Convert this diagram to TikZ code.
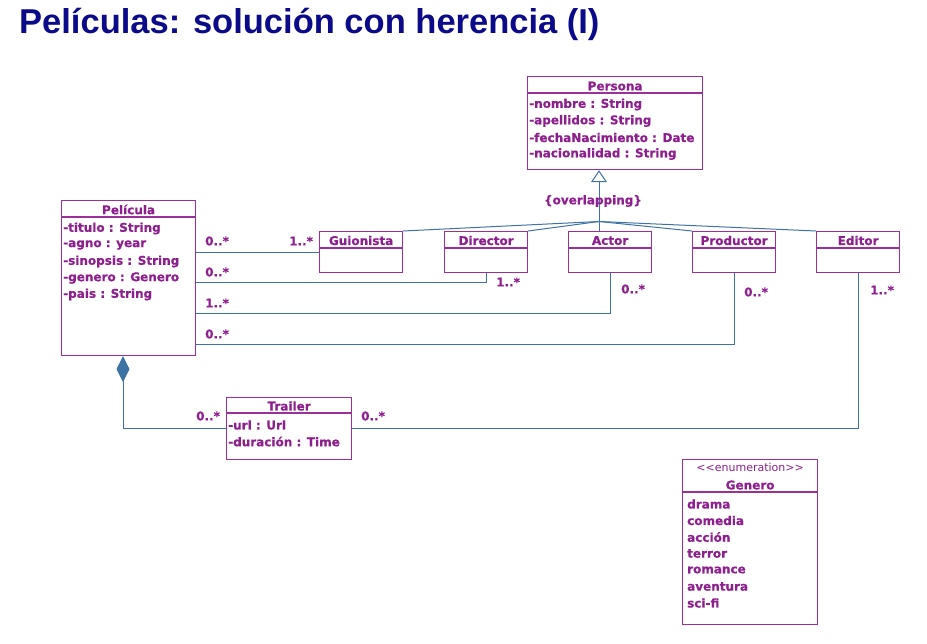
\documentclass[tikz,border=0pt]{standalone}
\usepackage{fontspec}
\setmainfont{DejaVu Sans}[BoldFeatures={FakeBold=0.6}]
\newfontfamily\titlefont{Liberation Sans}
\usetikzlibrary{arrows.meta,calc}
\definecolor{umlpurple}{HTML}{8E1F8E}
\definecolor{umlborder}{HTML}{9B309B}
\definecolor{assoc}{HTML}{3D72A4}
\definecolor{titleblue}{HTML}{0B0B8A}

\begin{document}
\begin{tikzpicture}[x=1pt,y=-1pt,
  classbox/.style={draw=umlborder, line width=1.2pt, fill=white, anchor=north west, inner sep=0pt},
  divider/.style={draw=umlborder, line width=1.2pt},
  txt/.style={text=umlpurple, font=\fontsize{12}{14}\selectfont\bfseries, inner sep=0pt, anchor=west},
  cname/.style={txt, anchor=center},
  mult/.style={txt},
  link/.style={draw=assoc, line width=1pt}]
\useasboundingbox (0,0) rectangle (927,644);

% title
\node[anchor=west, text=titleblue, inner sep=0pt,
      font=\titlefont\fontsize{34.5}{38}\selectfont\bfseries] (title) at (19,24)
      {Películas: solución con herencia (I)};

% ---------- Persona ----------
\node[classbox, minimum width=175, minimum height=93] (persona) at (527,76) {};
\node[cname] (persona-name) at ($(persona.north)+(0,10)$) {Persona};
\draw[divider] ($(persona.north west)+(0,17)$) -- ($(persona.north east)+(0,17)$);
\node[txt] (persona-a1) at ($(persona.north west)+(2,28.5)$) {-nombre : String};
\node[txt] (persona-a2) at ($(persona.north west)+(2,45)$) {-apellidos : String};
\node[txt] (persona-a3) at ($(persona.north west)+(2,61.5)$) {-fechaNacimiento : Date};
\node[txt] (persona-a4) at ($(persona.north west)+(2,78)$) {-nacionalidad : String};

% ---------- Pelicula ----------
\node[classbox, minimum width=134, minimum height=155] (pelicula) at (61,200) {};
\node[cname] (pelicula-name) at ($(pelicula.north)+(0,9.5)$) {Película};
\draw[divider] ($(pelicula.north west)+(0,17)$) -- ($(pelicula.north east)+(0,17)$);
\node[txt] (pelicula-a1) at ($(pelicula.north west)+(2,28.5)$) {-titulo : String};
\node[txt] (pelicula-a2) at ($(pelicula.north west)+(2,45)$) {-agno : year};
\node[txt] (pelicula-a3) at ($(pelicula.north west)+(2,61.5)$) {-sinopsis : String};
\node[txt] (pelicula-a4) at ($(pelicula.north west)+(2,78)$) {-genero : Genero};
\node[txt] (pelicula-a5) at ($(pelicula.north west)+(2,94.5)$) {-pais : String};

% ---------- subclasses of Persona ----------
\foreach \nm/\lbl/\x in {guionista/Guionista/319, director/Director/444,
                        actor/Actor/568, productor/Productor/692, editor/Editor/816}{
  \node[classbox, minimum width=83, minimum height=41] (\nm) at (\x,231) {};
  \node[cname] (\nm-name) at ($(\nm.north)+(0,9.5)$) {\lbl};
  \draw[divider] ($(\nm.north west)+(0,17)$) -- ($(\nm.north east)+(0,17)$);
}

% ---------- Trailer ----------
\node[classbox, minimum width=125, minimum height=62] (trailer) at (226,397) {};
\node[cname] (trailer-name) at ($(trailer.north)+(0,9)$) {Trailer};
\draw[divider] ($(trailer.north west)+(0,16)$) -- ($(trailer.north east)+(0,16)$);
\node[txt] (trailer-a1) at ($(trailer.north west)+(2,28)$) {-url : Url};
\node[txt] (trailer-a2) at ($(trailer.north west)+(2,44.5)$) {-duración : Time};

% ---------- Genero ----------
\node[classbox, minimum width=135, minimum height=165] (genero) at (682,459) {};
\node[cname, font=\fontsize{11}{13}\selectfont] (genero-st) at ($(genero.north)+(0,8.5)$) {<{}<enumeration>{}>};
\node[cname] (genero-name) at ($(genero.north)+(0,26)$) {Genero};
\draw[divider] ($(genero.north west)+(0,33)$) -- ($(genero.north east)+(0,33)$);
\foreach \v [count=\i from 0] in {drama, comedia, acción, terror, romance, aventura, sci-fi}{
  \node[txt] (genero-v\i) at ($(genero.north west)+(5,45+16.5*\i)$) {\v};
}

% ---------- generalization ----------
\coordinate (gen) at (599,221.5);
\draw[link, -{Triangle[open, fill=white, length=12pt, width=16pt]}]
      (gen) -- ($(persona.south west)+(72,0)$);
\draw[link] (gen) -- (guionista.north east);
\draw[link] (gen) -- (director.north east);
\draw[link] (gen) -- ($(actor.north west)+(31,0)$);
\draw[link] (gen) -- (productor.north west);
\draw[link] (gen) -- (editor.north west);
\node[txt, anchor=center] (overlap) at (593,201) {\{overlapping\}};

% ---------- associations ----------
\draw[link] (pelicula.east |- guionista.west) -- (guionista.west);
\draw[link] ($(pelicula.north east)+(0,83)$) -| (director.south);
\draw[link] ($(pelicula.north east)+(0,114)$) -| (actor.south);
\draw[link] ($(pelicula.north east)+(0,145)$) -| (productor.south);
\draw[link, {Diamond[fill=assoc, length=26pt, width=13pt]}-]
      ($(pelicula.south west)+(62,0)$) |- (trailer.west);
\draw[link] (trailer.east) -| (editor.south);

% multiplicities
\node[mult] (m1a) at (205,241) {0..*};
\node[mult] (m1b) at (289,241) {1..*};
\node[mult] (m2a) at (205,272) {0..*};
\node[mult] (m2b) at (496,282) {1..*};
\node[mult] (m3a) at (205,303) {1..*};
\node[mult] (m3b) at (621,289) {0..*};
\node[mult] (m4a) at (205,334) {0..*};
\node[mult] (m4b) at (744,292) {0..*};
\node[mult] (m5a) at (196,416) {0..*};
\node[mult] (m5b) at (361,416) {0..*};
\node[mult] (m6b) at (870,290) {1..*};
\end{tikzpicture}
\end{document}
